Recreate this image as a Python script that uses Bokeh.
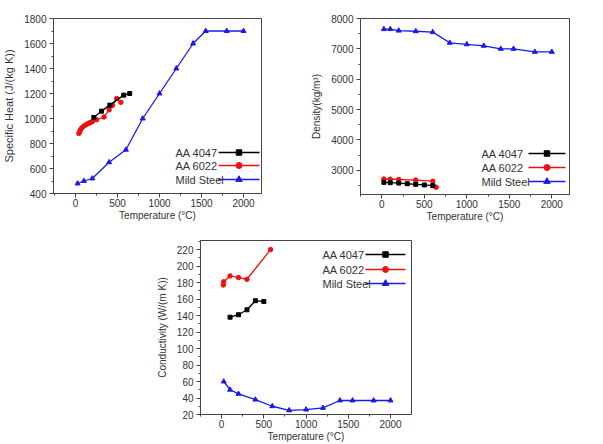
from bokeh.plotting import figure
from bokeh.layouts import column, row
from bokeh.models import Range1d, FixedTicker, Label, Spacer
from bokeh.embed import file_html
from bokeh.resources import INLINE

# ---------------- data ----------------
series_names = ["AA 4047", "AA 6022", "Mild Steel"]

temp_steel = [25, 100, 200, 400, 600, 800, 1000, 1200, 1400, 1550, 1800, 2000]

# Specific heat (J/(kg K))
cp_steel = [480, 500, 520, 650, 750, 1000, 1200, 1400, 1600, 1700, 1700, 1700]
cp_4047_t = [218, 309, 408, 574, 645]
cp_4047 = [1008, 1059, 1107, 1187, 1200]
cp_6022_t = [40, 50, 60, 75, 100, 125, 150, 175, 200, 250, 340, 400, 440, 490, 540]
cp_6022 = [880, 895, 910, 925, 940, 950, 960, 968, 975, 990, 1012, 1070, 1105, 1160, 1130]

# Density (kg/m3)
den_steel = [7650, 7650, 7600, 7580, 7550, 7200, 7150, 7100, 7000, 7000, 6900, 6900]
den_4047_t = [25, 100, 200, 300, 400, 500, 600]
den_4047 = [2600, 2590, 2575, 2555, 2535, 2515, 2490]
den_6022_t = [25, 100, 200, 400, 600, 640]
den_6022 = [2710, 2705, 2695, 2675, 2640, 2440]

# Conductivity (W/(m K))
k_steel = [60, 50, 45, 38, 30, 25, 26, 28, 37, 37, 37, 37]
k_4047_t = [100, 200, 300, 400, 500]
k_4047 = [138, 141, 147, 158, 157]
k_6022_t = [20, 25, 100, 200, 300, 580]
k_6022 = [177, 181, 188, 186, 184, 220]

x_ticks = [0, 500, 1000, 1500, 2000]
cp_ticks = [400, 600, 800, 1000, 1200, 1400, 1600, 1800]
den_ticks = [3000, 4000, 5000, 6000, 7000, 8000]
k_ticks = [20, 40, 60, 80, 100, 120, 140, 160, 180, 200, 220]

# ---------------- style ----------------
FONT = "Liberation Sans"
AX = "#444444"
TXT = "#333333"
COL = {"AA 4047": "black", "AA 6022": "#ee1111", "Mild Steel": "#1a1ae6"}
MARK = {"AA 4047": "square", "AA 6022": "circle", "Mild Steel": "triangle"}
MSIZE = {"AA 4047": 4, "AA 6022": 4.5, "Mild Steel": 5}


def minor(ticks):
    step = ticks[1] - ticks[0]
    out = []
    for t in ticks:
        out.append(t - step / 2)
    out.append(ticks[-1] + step / 2)
    return out


def make_fig(xr, yr, fw, fh, bl, br, bt, bb, ylabel, yticks, ylab_size):
    p = figure(x_range=Range1d(*xr), y_range=Range1d(*yr),
               frame_width=fw, frame_height=fh,
               min_border_left=bl, min_border_right=br,
               min_border_top=bt, min_border_bottom=bb,
               output_backend="svg", toolbar_location=None)
    p.xgrid.visible = False
    p.ygrid.visible = False
    p.outline_line_color = AX
    p.outline_line_width = 1
    p.background_fill_color = "white"
    p.border_fill_color = "white"
    p.xaxis.ticker = FixedTicker(ticks=x_ticks, minor_ticks=minor(x_ticks))
    p.yaxis.ticker = FixedTicker(ticks=yticks, minor_ticks=minor(yticks))
    for ax in (p.xaxis[0], p.yaxis[0]):
        ax.axis_line_color = AX
        ax.major_tick_line_color = AX
        ax.minor_tick_line_color = AX
        ax.major_tick_in = 0
        ax.major_tick_out = 4
        ax.minor_tick_in = 0
        ax.minor_tick_out = 2
        ax.major_label_text_font = FONT
        ax.major_label_text_font_size = "10px"
        ax.major_label_text_color = TXT
        ax.axis_label_text_font = FONT
        ax.axis_label_text_font_style = "normal"
        ax.axis_label_text_color = TXT
        ax.major_label_standoff = 3
    p.xaxis.major_label_standoff = 1
    p.xaxis.axis_label = "Temperature (°C)"
    p.xaxis.axis_label_text_font_size = "10px"
    p.xaxis.axis_label_standoff = 0
    p.yaxis.axis_label = ylabel
    p.yaxis.axis_label_text_font_size = ylab_size
    p.yaxis.axis_label_standoff = 6
    return p


def draw(p, name, xs, ys):
    c = COL[name]
    p.line(xs, ys, line_color=c, line_width=1.3)
    p.scatter(xs, ys, marker=MARK[name], size=MSIZE[name], fill_color=c, line_color=c)


def add_legend(p, xr, yr, fw, fh, text_x, line_x0, line_x1, rows):
    def dx(px):
        return xr[0] + px / fw * (xr[1] - xr[0])

    def dy(py):
        return yr[1] - py / fh * (yr[1] - yr[0])

    for name, ry in zip(series_names, rows):
        c = COL[name]
        p.line([dx(line_x0), dx(line_x1)], [dy(ry), dy(ry)], line_color=c, line_width=1.3)
        p.scatter([dx((line_x0 + line_x1) / 2)], [dy(ry)], marker=MARK[name],
                  size=MSIZE[name] + 1.5, fill_color=c, line_color=c)
        p.add_layout(Label(x=dx(text_x), y=dy(ry), text=name, text_font=FONT,
                           text_font_size="11px", text_color=TXT,
                           text_baseline="middle", text_align="left"))


# ---------------- panel 1: specific heat ----------------
xr1, yr1 = (-262, 2214), (400, 1800)
p1 = make_fig(xr1, yr1, 208, 175, 50, 42, 18, 29, "Specific Heat (J/(kg K))", cp_ticks, "11px")
draw(p1, "Mild Steel", temp_steel, cp_steel)
draw(p1, "AA 6022", cp_6022_t, cp_6022)
draw(p1, "AA 4047", cp_4047_t, cp_4047)
add_legend(p1, xr1, yr1, 208, 175, 122, 165, 206, [134, 147, 161])

# ---------------- panel 2: density ----------------
xr2, yr2 = (-250, 2208), (2200, 8000)
p2 = make_fig(xr2, yr2, 209, 176, 57, 37, 17, 29, "Density(kg/m³)", den_ticks, "10px")
draw(p2, "Mild Steel", temp_steel, den_steel)
draw(p2, "AA 6022", den_6022_t, den_6022)
draw(p2, "AA 4047", den_4047_t, den_4047)
add_legend(p2, xr2, yr2, 209, 176, 121, 168, 205, [135, 149, 163])

# ---------------- panel 3: conductivity ----------------
xr3, yr3 = (-250, 2248), (20, 231)
p3 = make_fig(xr3, yr3, 211, 174, 50, 192, 17, 31, "Conductivity (W/(m K))", k_ticks, "10px")
draw(p3, "Mild Steel", temp_steel, k_steel)
draw(p3, "AA 6022", k_6022_t, k_6022)
draw(p3, "AA 4047", k_4047_t, k_4047)
add_legend(p3, xr3, yr3, 211, 174, 122, 165, 205, [14, 29, 43])

layout = column(row(p1, p2, spacing=0), row(Spacer(width=150, height=222), p3, spacing=0), spacing=0)

open("out.html", "w").write(file_html(layout, INLINE))
